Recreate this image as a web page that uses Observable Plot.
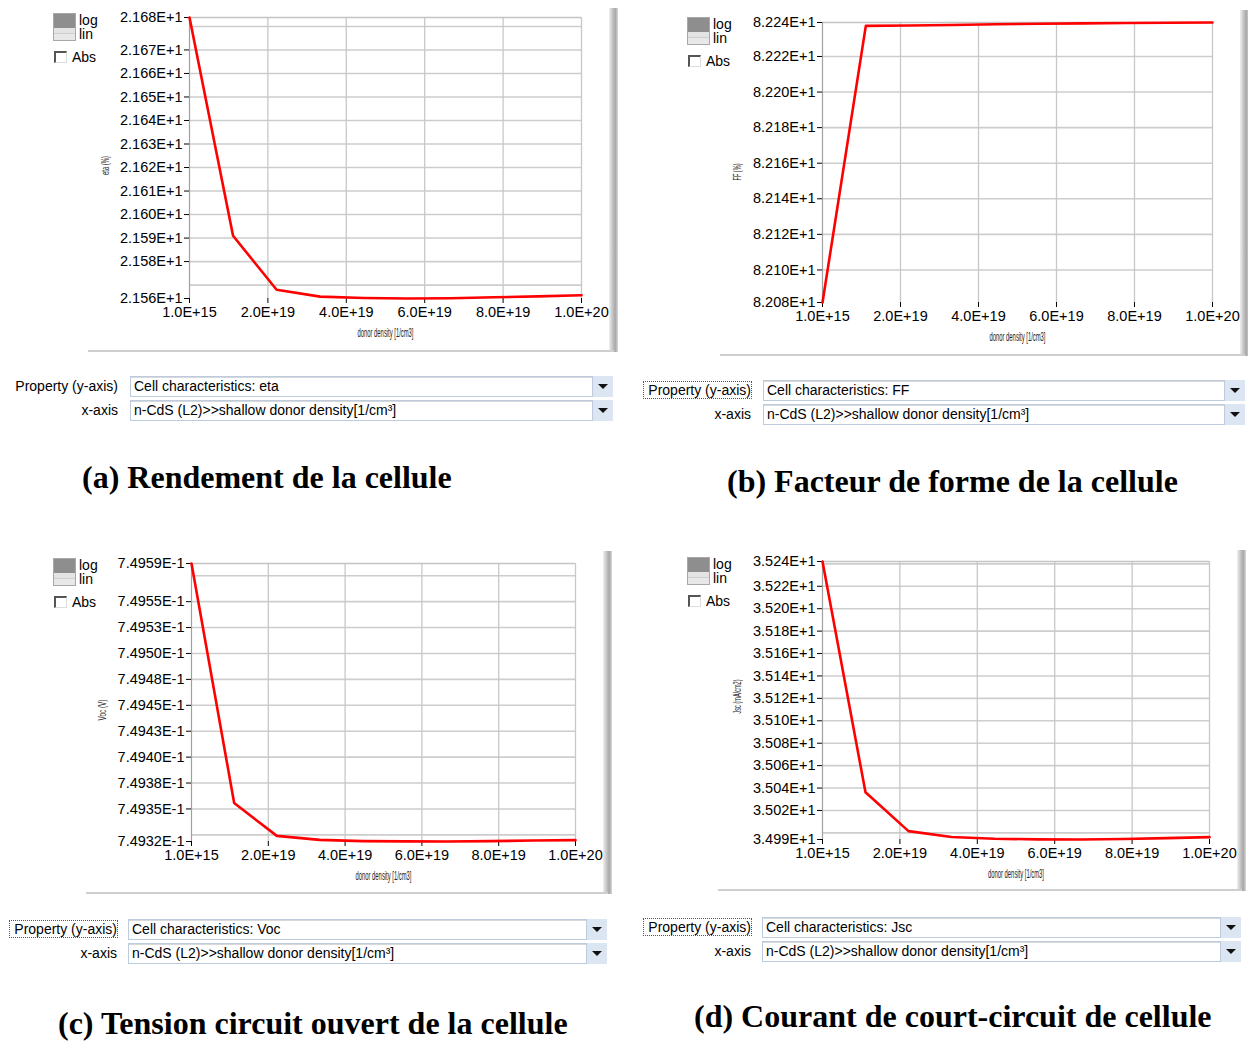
<!DOCTYPE html>
<html><head><meta charset="utf-8">
<script src="https://cdn.jsdelivr.net/npm/d3@7"></script>
<script src="https://cdn.jsdelivr.net/npm/@observablehq/plot@0.6"></script>
<style>
body{margin:0;background:#fff;}
#page{position:relative;width:1248px;height:1041px;overflow:hidden;background:#fff;font-family:"Liberation Sans",Arial,sans-serif;color:#000;}
.a{position:absolute;white-space:nowrap;}
.t14{font-size:14px;line-height:16px;}
.cap{font-family:"Liberation Serif","Times New Roman",serif;font-weight:bold;font-size:32px;line-height:32px;}
.combo{background:#fff;border:1px solid #bccbdd;box-shadow:inset 0 1px 0 #d8d8d8;box-sizing:border-box;padding-left:3px;font-size:14px;line-height:18px;}
.btn{background:#dbe6f2;box-sizing:border-box;}
.tri{position:absolute;left:5px;top:8px;width:0;height:0;border-left:5px solid transparent;border-right:5px solid transparent;border-top:5px solid #111;}
.shadow{background:linear-gradient(to right,#f0f0f0,#c4c4c4 40%,#a8a8a8 70%,#d8d8d8);}
.bline{background:#cfcfcf;height:2px;}
.sq{box-sizing:border-box;border:1px solid #a8a8a8;}
.chk{box-sizing:border-box;border-left:2px solid #555;border-top:2px solid #555;border-right:1px solid #ddd;border-bottom:1px solid #ddd;background:#fff;}
svg{position:absolute;}
</style></head><body><div id="page"></div>
<script>
// ---------- data ----------
const donorDensity = [1e15, 1.111e19, 2.222e19, 3.333e19, 4.444e19, 5.556e19, 6.667e19, 7.778e19, 8.889e19, 1e20];
const xTickValues = [1e15, 2e19, 4e19, 6e19, 8e19, 1e20];
const xTickLabels = ["1.0E+15", "2.0E+19", "4.0E+19", "6.0E+19", "8.0E+19", "1.0E+20"];
const xTitle = "donor density [1/cm3]";

const etaValues = [21.6838, 21.5910, 21.5680, 21.5651, 21.5645, 21.5643, 21.5644, 21.5648, 21.5652, 21.5657];
const etaGrid = [21.57, 21.58, 21.59, 21.60, 21.61, 21.62, 21.63, 21.64, 21.65, 21.66, 21.67, 21.68];
const etaTickValues = [21.58, 21.59, 21.60, 21.61, 21.62, 21.63, 21.64, 21.65, 21.66, 21.67];
const etaTickLabels = ["2.158E+1", "2.159E+1", "2.160E+1", "2.161E+1", "2.162E+1", "2.163E+1", "2.164E+1", "2.165E+1", "2.166E+1", "2.167E+1"];
const etaEndLabels = ["2.156E+1", "2.168E+1"];

const ffValues = [82.0817, 82.2372, 82.2374, 82.2377, 82.2381, 82.2384, 82.2386, 82.2388, 82.2390, 82.2391];
const ffGrid = [82.10, 82.12, 82.14, 82.16, 82.18, 82.20, 82.22];
const ffTickValues = [82.10, 82.12, 82.14, 82.16, 82.18, 82.20, 82.22];
const ffTickLabels = ["8.210E+1", "8.212E+1", "8.214E+1", "8.216E+1", "8.218E+1", "8.220E+1", "8.222E+1"];
const ffEndLabels = ["8.208E+1", "8.224E+1"];

const vocValues = [0.7495868, 0.7493557, 0.7493240, 0.7493202, 0.7493190, 0.7493187, 0.7493186, 0.7493190, 0.7493195, 0.7493199];
const vocGrid = [0.749325, 0.74935, 0.749375, 0.7494, 0.749425, 0.74945, 0.749475, 0.7495, 0.749525, 0.74955, 0.749575];
const vocTickValues = [0.74935, 0.749375, 0.7494, 0.749425, 0.74945, 0.749475, 0.7495, 0.749525, 0.74955];
const vocTickLabels = ["7.4935E-1", "7.4938E-1", "7.4940E-1", "7.4943E-1", "7.4945E-1", "7.4948E-1", "7.4950E-1", "7.4953E-1", "7.4955E-1"];
const vocEndLabels = ["7.4932E-1", "7.4959E-1"];

const jscValues = [35.2421, 35.0362, 35.0016, 34.9963, 34.9948, 34.9942, 34.9941, 34.9946, 34.9953, 34.9962];
const jscGrid = [35.00, 35.02, 35.04, 35.06, 35.08, 35.10, 35.12, 35.14, 35.16, 35.18, 35.20, 35.22, 35.24];
const jscTickValues = [35.02, 35.04, 35.06, 35.08, 35.10, 35.12, 35.14, 35.16, 35.18, 35.20, 35.22];
const jscTickLabels = ["3.502E+1", "3.504E+1", "3.506E+1", "3.508E+1", "3.510E+1", "3.512E+1", "3.514E+1", "3.516E+1", "3.518E+1", "3.520E+1", "3.522E+1"];
const jscEndLabels = ["3.499E+1", "3.524E+1"];

const yTitles = ["eta (%)", "FF (%)", "Voc (V)", "Jsc (mA/cm2)"];
const properties = ["Cell characteristics: eta", "Cell characteristics: FF", "Cell characteristics: Voc", "Cell characteristics: Jsc"];
const xAxisProperty = "n-CdS (L2)>>shallow donor density[1/cm³]";
const captions = ["(a) Rendement de la cellule", "(b) Facteur de forme de la cellule", "(c) Tension circuit ouvert de la cellule", "(d) Courant de court-circuit de cellule"];

// ---------- layout ----------
const panels = [
  {values: etaValues, grid: etaGrid, tv: etaTickValues, tl: etaTickLabels, ends: etaEndLabels,
   svg: {x: 90, y: 0, w: 530, h: 352}, plot: {l: 189, t: 17, r: 581, b: 298}, yt: {dx: -84, dy: 17, len: 19}, xtLen: 56,
   widget: [53, 13], shadow: {x: 609, y: 8, b: 352}, bline: {x: 88, y: 350, r: 614},
   combo: {lab: 118, y1: 376, y2: 400, x1: 130, x2: 613, dotted: false}, cap: {x: 82, base: 488}},
  {values: ffValues, grid: ffGrid, tv: ffTickValues, tl: ffTickLabels, ends: ffEndLabels,
   svg: {x: 723, y: 4, w: 522, h: 352}, plot: {l: 822, t: 22, r: 1212, b: 302}, yt: {dx: -85, dy: 18, len: 17}, xtLen: 56,
   widget: [687, 17], shadow: {x: 1240, y: 10, b: 356}, bline: {x: 720, y: 354, r: 1245},
   combo: {lab: 751, y1: 380, y2: 404, x1: 763, x2: 1245, dotted: true}, cap: {x: 727, base: 492}},
  {values: vocValues, grid: vocGrid, tv: vocTickValues, tl: vocTickLabels, ends: vocEndLabels,
   svg: {x: 90, y: 545, w: 530, h: 350}, plot: {l: 191, t: 563, r: 575, b: 841}, yt: {dx: -89, dy: 18, len: 21}, xtLen: 56,
   widget: [53, 558], shadow: {x: 603, y: 551, b: 894}, bline: {x: 86, y: 892, r: 608},
   combo: {lab: 117, y1: 919, y2: 943, x1: 128, x2: 607, dotted: true}, cap: {x: 58, base: 1034}},
  {values: jscValues, grid: jscGrid, tv: jscTickValues, tl: jscTickLabels, ends: jscEndLabels,
   svg: {x: 723, y: 545, w: 522, h: 350}, plot: {l: 822, t: 561, r: 1209, b: 839}, yt: {dx: -85, dy: 13, len: 34}, xtLen: 56,
   widget: [687, 557], shadow: {x: 1237, y: 550, b: 891}, bline: {x: 718, y: 889, r: 1242},
   combo: {lab: 751, y1: 917, y2: 941, x1: 762, x2: 1241, dotted: true}, cap: {x: 694, base: 1027}}
];

const page = document.getElementById("page");
function div(cls, x, y, w, h, html, extra) {
  const d = document.createElement("div");
  d.className = "a " + (cls || "");
  d.style.left = x + "px"; d.style.top = y + "px";
  if (w != null) d.style.width = w + "px";
  if (h != null) d.style.height = h + "px";
  if (html != null) d.textContent = html;
  if (extra) Object.assign(d.style, extra);
  page.appendChild(d);
  return d;
}

const xMap = new Map(xTickValues.map((v, i) => [v, xTickLabels[i]]));

panels.forEach((p, k) => {
  // screenshot frame first (drawn under the chart): right shadow and bottom line
  div("shadow", p.shadow.x, p.shadow.y, 9, p.shadow.b - p.shadow.y);
  div("bline", p.bline.x, p.bline.y, p.bline.r - p.bline.x, 2);

  const ext = d3.extent(p.values);
  const ticksY = [ext[0], ...p.tv, ext[1]];
  const labelsY = [p.ends[0], ...p.tl, p.ends[1]];
  const yMap = new Map(ticksY.map((v, i) => [v, labelsY[i]]));
  const rows = donorDensity.map((x, i) => ({density: x, value: p.values[i]}));
  const S = p.svg, P = p.plot;
  const chart = Plot.plot({
    width: S.w, height: S.h,
    marginLeft: P.l - S.x, marginRight: S.x + S.w - P.r,
    marginTop: P.t - S.y, marginBottom: S.y + S.h - P.b,
    style: {fontFamily: "'Liberation Sans', Arial, sans-serif", fontSize: "14.5px", color: "#000", background: "transparent", overflow: "visible"},
    x: {type: "linear", domain: [1e15, 1e20], axis: null},
    y: {type: "linear", domain: ext, axis: null},
    marks: [
      Plot.gridY(p.grid, {stroke: "#cdcdcd", strokeOpacity: 1, strokeWidth: 1.6}),
      Plot.gridX(xTickValues.slice(1), {stroke: "#c8c8c8", strokeOpacity: 1, strokeWidth: 1.3}),
      Plot.ruleY([ext[1]], {stroke: "#c4c4c4", strokeWidth: 1.5}),
      Plot.ruleX([1e15], {stroke: "#a0a0a0", strokeWidth: 1.2}),
      Plot.axisY(ticksY, {tickSize: 5, tickPadding: 2, tickFormat: d => yMap.get(d), label: null, stroke: "#000"}),
      Plot.axisX(xTickValues, {tickSize: 5, tickPadding: 3, tickFormat: d => xMap.get(d), label: null, stroke: "#000"}),
      Plot.line(rows, {x: "density", y: "value", stroke: "#ff0000", strokeWidth: 2.6}),
      Plot.text([yTitles[k]], {text: d => d, frameAnchor: "left", dx: p.yt.dx, dy: p.yt.dy, rotate: -90, fontSize: 10, fill: "#222"}),
      Plot.text([xTitle], {text: d => d, frameAnchor: "bottom", dy: 38, fontSize: 13, fill: "#222"})
    ]
  });
  d3.select(chart).selectAll("text").filter(function() { return this.textContent === yTitles[k]; })
    .attr("textLength", p.yt.len).attr("lengthAdjust", "spacingAndGlyphs");
  d3.select(chart).selectAll("text").filter(function() { return this.textContent === xTitle; })
    .attr("textLength", p.xtLen).attr("lengthAdjust", "spacingAndGlyphs");
  chart.style.position = "absolute";
  chart.style.left = S.x + "px";
  chart.style.top = S.y + "px";
  page.appendChild(chart);

  // log / lin widget and Abs checkbox
  const [wx, wy] = p.widget;
  div("sq", wx, wy, 23, 28, null, {background: "linear-gradient(#8e8e8e 0, #8e8e8e 52%, #e4e4e4 52%, #e4e4e4 75%, #cfcfcf 75%, #cfcfcf 78%, #e8e8e8 78%)"});
  div("t14", wx + 26, wy - 1, null, null, "log");
  div("t14", wx + 26, wy + 13, null, null, "lin");
  div("chk", wx + 1, wy + 38, 13, 12);
  div("t14", wx + 19, wy + 36, null, null, "Abs");

  // property selectors
  const C = p.combo;
  const lab1 = div("t14", C.lab - 107, C.y1 + 2, 107, null, "Property (y-axis)", {textAlign: "right"});
  if (C.dotted) { lab1.style.outline = "1px dotted #555"; lab1.style.outlineOffset = "0px"; }
  div("t14", C.lab - 107, C.y2 + 2, 107, null, "x-axis", {textAlign: "right"});
  [[C.y1, properties[k]], [C.y2, xAxisProperty]].forEach(([yy, txt]) => {
    div("combo", C.x1, yy, C.x2 - C.x1 - 20, 21, txt);
    const b = div("btn", C.x2 - 20, yy, 20, 21);
    const t = document.createElement("div"); t.className = "tri"; b.appendChild(t);
  });

  // caption
  div("cap", p.cap.x, p.cap.base - 27, null, null, captions[k]);
});
</script></body></html>
